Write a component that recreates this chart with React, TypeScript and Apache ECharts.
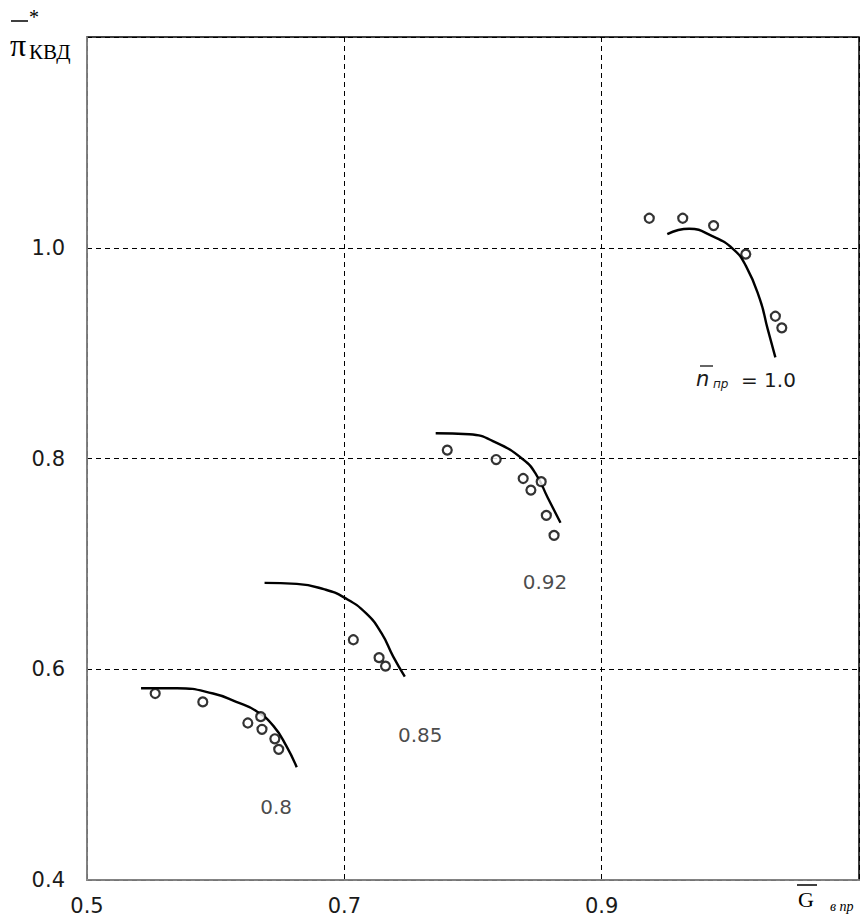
import React, { useEffect, useRef } from "react";
import * as echarts from "echarts";

// Curves (model) and measured points for each relative speed line
const curve100: [number, number][] = [
  [0.951, 1.013], [0.968, 1.018], [0.986, 1.011], [1.002, 0.999], [1.012, 0.983],
  [1.023, 0.951], [1.029, 0.923], [1.035, 0.896],
];
const points100: [number, number][] = [
  [0.937, 1.028], [0.963, 1.028], [0.987, 1.021], [1.012, 0.994], [1.035, 0.935], [1.04, 0.924],
];
const curve092: [number, number][] = [
  [0.771, 0.824], [0.797, 0.823], [0.818, 0.815], [0.839, 0.799], [0.849, 0.785],
  [0.858, 0.763], [0.868, 0.739],
];
const points092: [number, number][] = [
  [0.78, 0.808], [0.818, 0.799], [0.839, 0.781], [0.845, 0.77], [0.853, 0.778],
  [0.857, 0.746], [0.863, 0.727],
];
const curve085: [number, number][] = [
  [0.638, 0.682], [0.663, 0.681], [0.684, 0.676], [0.7, 0.668], [0.717, 0.653],
  [0.729, 0.634], [0.738, 0.612], [0.747, 0.593],
];
const points085: [number, number][] = [
  [0.707, 0.628], [0.727, 0.611], [0.732, 0.603],
];
const curve080: [number, number][] = [
  [0.542, 0.582], [0.57, 0.582], [0.598, 0.577], [0.616, 0.569], [0.632, 0.56],
  [0.645, 0.546], [0.655, 0.527], [0.663, 0.507],
];
const points080: [number, number][] = [
  [0.553, 0.577], [0.59, 0.569], [0.625, 0.549], [0.635, 0.555], [0.636, 0.543],
  [0.646, 0.534], [0.649, 0.524],
];

// Curve labels (value text, anchor position in data units)
const curveLabels: { text: string; pos: [number, number] }[] = [
  { text: "0.92", pos: [0.856, 0.683] },
  { text: "0.85", pos: [0.759, 0.538] },
  { text: "0.8", pos: [0.647, 0.469] },
];

const xTicks = [0.5, 0.7, 0.9];
const yTicks = [0.4, 0.6, 0.8, 1.0];

export default function App() {
  const ref = useRef<HTMLDivElement>(null);
  useEffect(() => {
    document.body.style.margin = "0";
    const chart = echarts.init(ref.current!, undefined, { renderer: "svg" });
    const lineSeries = (data: [number, number][]) => ({
      type: "line",
      data,
      smooth: 0.5,
      symbol: "none",
      lineStyle: { color: "#000", width: 2.4 },
      z: 3,
    });
    const pointSeries = (data: [number, number][]) => ({
      type: "scatter",
      data,
      symbol: "circle",
      symbolSize: 9,
      itemStyle: { color: "#fff", borderColor: "#000", borderWidth: 2.2 },
      z: 4,
    });
    const sans = "DejaVu Sans";
    const serif = "'Liberation Serif', 'Times New Roman', serif";
    const tickLabel = (ticks: number[], margin: number) => ({
      margin,
      fontSize: 21,
      color: "#1a1a1a",
      fontFamily: sans,
      formatter: (v: number) => {
        const t = ticks.find((k) => Math.abs(k - v) < 1e-6);
        return t !== undefined ? t.toFixed(1) : "";
      },
    });
    chart.setOption({
      animation: false,
      textStyle: { fontFamily: sans },
      grid: {
        left: 87, right: 7, top: 37, bottom: 40,
        show: true, borderColor: "#000", borderWidth: 1.5, backgroundColor: "#fff",
      },
      xAxis: {
        type: "value", min: 0.5, max: 1.1, interval: 0.2,
        axisLine: { show: true, lineStyle: { color: "#9a9a9a", width: 1.5 } },
        axisTick: { show: false },
        splitLine: { show: true, lineStyle: { color: "#000", width: 1, type: [5, 4] } },
        axisLabel: tickLabel(xTicks, 15),
      },
      yAxis: {
        type: "value", min: 0.4, max: 1.2, interval: 0.2,
        axisLine: { show: true, lineStyle: { color: "#9a9a9a", width: 1.5 } },
        axisTick: { show: false },
        splitLine: { show: true, lineStyle: { color: "#000", width: 1, type: [5, 4] } },
        axisLabel: tickLabel(yTicks, 22),
      },
      series: [
        lineSeries(curve100), pointSeries(points100),
        lineSeries(curve092), pointSeries(points092),
        lineSeries(curve085), pointSeries(points085),
        lineSeries(curve080), pointSeries(points080),
        {
          type: "scatter",
          data: curveLabels.map((l) => ({ value: l.pos, name: l.text })),
          symbolSize: 0,
          silent: true,
          label: {
            show: true, position: "inside", formatter: (p: any) => p.name,
            fontSize: 20, color: "#1a1a1a", fontFamily: sans,
          },
        },
      ],
      graphic: [
        // y-axis title: π* КВД with bar
        { type: "line", shape: { x1: 11, y1: 21, x2: 28, y2: 21 }, style: { stroke: "#000", lineWidth: 1.5 } },
        { type: "text", x: 29, y: 7, style: { text: "*", fontSize: 20, fontFamily: serif, fill: "#000" } },
        { type: "text", x: 10, y: 29, style: { text: "π", fontSize: 32, fontFamily: serif, fill: "#000" } },
        { type: "text", x: 29, y: 41, style: { text: "КВД", fontSize: 21, fontFamily: serif, fill: "#000" } },
        // x-axis title: G в пр with bar
        { type: "line", shape: { x1: 797, y1: 885, x2: 817, y2: 885 }, style: { stroke: "#000", lineWidth: 1.5 } },
        { type: "text", x: 798, y: 888, style: { text: "G", fontSize: 22, fontFamily: serif, fill: "#000" } },
        { type: "text", x: 830, y: 899, style: { text: "в пр", fontSize: 14, fontStyle: "italic", fontFamily: serif, fill: "#000" } },
        // label n пр = 1.0
        { type: "line", shape: { x1: 700, y1: 366, x2: 713, y2: 366 }, style: { stroke: "#000", lineWidth: 1.2 } },
        { type: "text", x: 696, y: 368, style: { text: "n", fontSize: 21, fontStyle: "italic", fontFamily: sans, fill: "#1a1a1a" } },
        { type: "text", x: 713, y: 378, style: { text: "пр", fontSize: 12, fontStyle: "italic", fontFamily: sans, fill: "#1a1a1a" } },
        { type: "text", x: 741, y: 370, style: { text: "= 1.0", fontSize: 20, fontFamily: sans, fill: "#1a1a1a" } },
      ],
    });
    return () => chart.dispose();
  }, []);
  return <div ref={ref} style={{ width: 866, height: 920 }} />;
}
